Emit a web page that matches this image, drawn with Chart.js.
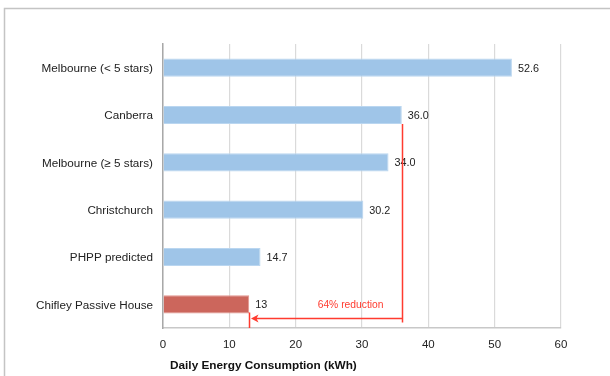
<!DOCTYPE html>
<html>
<head>
<meta charset="utf-8">
<script src="https://cdn.jsdelivr.net/npm/chart.js@4"></script>
<style>
  html, body { margin: 0; padding: 0; background: #fff; }
  #wrap { width: 610px; height: 376px; }
</style>
</head>
<body>
<div id="wrap"><canvas id="chart" width="610" height="376"></canvas></div>
<script>
// Daily energy consumption per household
const categories = [
  'Melbourne (< 5 stars)',
  'Canberra',
  'Melbourne (\u2265 5 stars)',
  'Christchurch',
  'PHPP predicted',
  'Chifley Passive House'
];
const consumption = [52.6, 36.0, 34.0, 30.2, 14.7, 13];
const labelDecimals = [1, 1, 1, 1, 1, 0];
const xTicks = [0, 10, 20, 30, 40, 50, 60];
const axisTitle = 'Daily Energy Consumption (kWh)';
const reductionText = '64% reduction';

const barFill = consumption.map((v, i) => i === categories.length - 1 ? 'rgb(204,102,92)' : 'rgb(159,197,232)');
const barEdge = consumption.map((v, i) => i === categories.length - 1 ? 'rgb(226,150,142)' : 'rgb(186,214,240)');

const FONT = '"Liberation Sans", Arial, sans-serif';

const framePlugin = {
  id: 'frame',
  beforeDraw(chart) {
    const ctx = chart.ctx;
    ctx.save();
    ctx.strokeStyle = '#c4c4c4';
    ctx.lineWidth = 1.5;
    ctx.beginPath();
    ctx.moveTo(4.5, 380);
    ctx.lineTo(4.5, 8.5);
    ctx.lineTo(620, 8.5);
    ctx.stroke();
    ctx.restore();
  }
};

const labelsPlugin = {
  id: 'valueLabels',
  afterDatasetsDraw(chart) {
    const ctx = chart.ctx;
    const meta = chart.getDatasetMeta(0);
    ctx.save();
    ctx.font = '10.8px ' + FONT;
    ctx.fillStyle = '#222';
    ctx.textAlign = 'left';
    ctx.textBaseline = 'middle';
    meta.data.forEach((bar, i) => {
      ctx.fillText(consumption[i].toFixed(labelDecimals[i]), bar.x + 6, bar.y + 1);
    });
    ctx.restore();
  }
};

const reductionPlugin = {
  id: 'reduction',
  afterDatasetsDraw(chart) {
    const ctx = chart.ctx;
    const xs = chart.scales.x;
    const meta = chart.getDatasetMeta(0);
    const fromIdx = 1, toIdx = categories.length - 1;
    const fromBar = meta.data[fromIdx];
    const toBar = meta.data[toIdx];
    const xFrom = Math.round(xs.getPixelForValue(consumption[fromIdx])) + 0.5;
    const xTo = Math.round(xs.getPixelForValue(consumption[toIdx])) + 0.5;
    const fromBottom = fromBar.y + fromBar.height / 2;
    const toBottom = toBar.y + toBar.height / 2;
    const yArrow = Math.round(toBottom + 5) + 0.5;
    const axisY = chart.chartArea.bottom;
    ctx.save();
    ctx.strokeStyle = '#ff3b2f';
    ctx.fillStyle = '#ff3b2f';
    ctx.lineWidth = 1.5;
    ctx.beginPath();
    ctx.moveTo(xFrom, fromBottom);
    ctx.lineTo(xFrom, yArrow + 4);
    ctx.moveTo(xFrom, yArrow);
    ctx.lineTo(xTo + 6, yArrow);
    ctx.moveTo(xTo, yArrow - 6);
    ctx.lineTo(xTo, axisY);
    ctx.stroke();
    ctx.beginPath();
    ctx.moveTo(xTo + 1.5, yArrow);
    ctx.lineTo(xTo + 9, yArrow - 4);
    ctx.lineTo(xTo + 7, yArrow);
    ctx.lineTo(xTo + 9, yArrow + 4);
    ctx.closePath();
    ctx.fill();
    ctx.font = '10.3px ' + FONT;
    ctx.textAlign = 'right';
    ctx.textBaseline = 'middle';
    ctx.fillText(reductionText, xFrom - 19, yArrow - 13);
    ctx.restore();
  }
};

const titlePlugin = {
  id: 'axisTitle',
  afterDraw(chart) {
    const ctx = chart.ctx;
    ctx.save();
    ctx.font = 'bold 11.8px ' + FONT;
    ctx.fillStyle = '#111';
    ctx.textAlign = 'left';
    ctx.textBaseline = 'middle';
    ctx.fillText(axisTitle, chart.chartArea.left + 7, 366);
    ctx.restore();
  }
};

new Chart(document.getElementById('chart'), {
  type: 'bar',
  data: {
    labels: categories,
    datasets: [{
      data: consumption,
      backgroundColor: barFill,
      borderColor: barEdge,
      borderWidth: 1,
      categoryPercentage: 1,
      barPercentage: 0.385
    }]
  },
  options: {
    indexAxis: 'y',
    responsive: false,
    animation: false,
    devicePixelRatio: 1,
    layout: { padding: { top: 44, right: 49, left: 0, bottom: 0 } },
    plugins: {
      legend: { display: false },
      tooltip: { enabled: false }
    },
    scales: {
      x: {
        min: 0,
        max: 60,
        afterBuildTicks(scale) { scale.ticks = xTicks.map(v => ({ value: v })); },
        afterFit(scale) { scale.height = 48; },
        grid: { color: '#dadada', lineWidth: 1.2, drawTicks: false },
        border: { display: true, color: '#c8c8c8', width: 1.5 },
        ticks: { font: { family: FONT, size: 11.5 }, color: '#222', padding: 10 }
      },
      y: {
        afterFit(scale) { scale.width = 163; },
        grid: { display: false, drawTicks: false },
        border: { display: true, color: '#a8a8a8', width: 1.5 },
        ticks: { font: { family: FONT, size: 11.7 }, color: '#222', padding: 10, labelOffset: 1 }
      }
    }
  },
  plugins: [framePlugin, labelsPlugin, reductionPlugin, titlePlugin]
});
</script>
</body>
</html>
